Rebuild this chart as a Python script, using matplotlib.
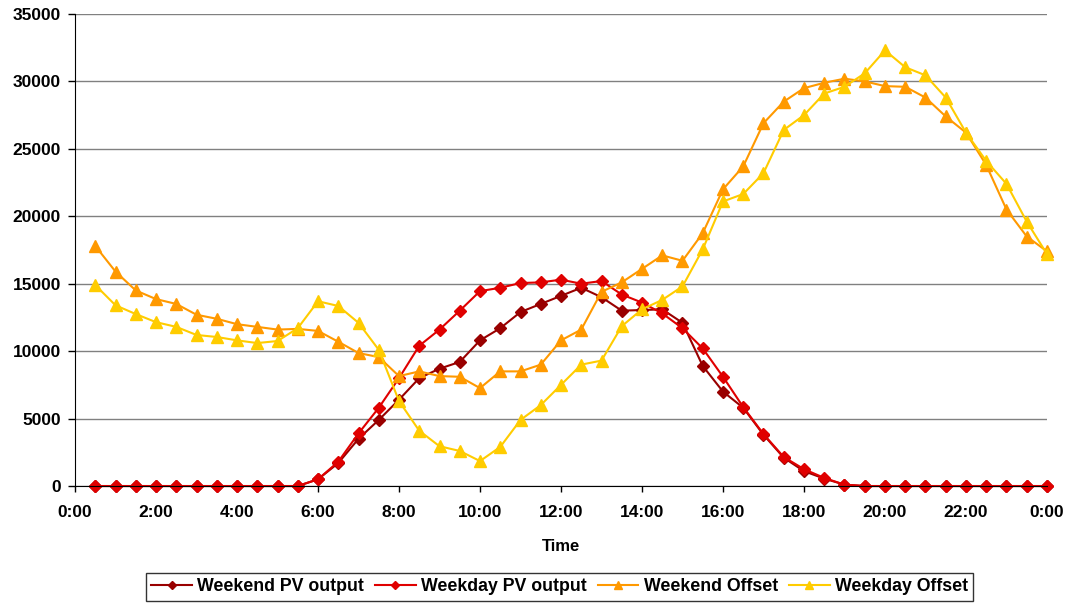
import matplotlib
matplotlib.use('Agg')
import matplotlib.pyplot as plt
import numpy as np

plt.rcParams['font.family'] = ['Liberation Sans', 'DejaVu Sans']
plt.rcParams['font.weight'] = 'bold'

# half-hourly points 0:30 .. 24:00
hours = [h / 2 for h in range(1, 49)]

weekend_pv = [0, 0, 0, 0, 0, 0, 0, 0, 0, 0, 0, 500,
              1700, 3500, 4900, 6400, 8000, 8700, 9200, 10800, 11700, 12900, 13500, 14100,
              14700, 14000, 13000, 13050, 13100, 12100, 8900, 7000, 5800, 3800, 2100, 1100,
              550, 100, 0, 0, 0, 0, 0, 0, 0, 0, 0, 0]
weekday_pv = [0, 0, 0, 0, 0, 0, 0, 0, 0, 0, 0, 500,
              1800, 3900, 5800, 8000, 10400, 11600, 13000, 14450, 14700, 15050, 15100, 15300,
              15000, 15200, 14200, 13600, 12800, 11700, 10200, 8100, 5850, 3850, 2150, 1250,
              600, 100, 0, 0, 0, 0, 0, 0, 0, 0, 0, 0]
weekend_offset = [17800, 15900, 14500, 13860, 13500, 12700, 12400, 12000, 11800, 11600, 11650, 11500,
                  10700, 9860, 9560, 8150, 8500, 8150, 8100, 7260, 8500, 8500, 9000, 10800,
                  11600, 14400, 15100, 16100, 17100, 16700, 18750, 22000, 23700, 26900, 28500, 29500,
                  29900, 30200, 30000, 29650, 29600, 28800, 27400, 26200, 23800, 20500, 18500, 17400]
weekday_offset = [14900, 13400, 12750, 12150, 11800, 11200, 11050, 10800, 10600, 10750, 11700, 13700,
                  13350, 12100, 10100, 6300, 4100, 2950, 2600, 1850, 2900, 4900, 6000, 7500,
                  9000, 9300, 11850, 13100, 13800, 14800, 17550, 21100, 21650, 23200, 26400, 27500,
                  29100, 29600, 30600, 32300, 31050, 30450, 28800, 26200, 24100, 22400, 19600, 17200]

series = [
    ('Weekend PV output', weekend_pv, '#990000', 'D', 6),
    ('Weekday PV output', weekday_pv, '#E00000', 'D', 6),
    ('Weekend Offset', weekend_offset, '#FF9900', '^', 8),
    ('Weekday Offset', weekday_offset, '#FFCC00', '^', 8),
]

fig = plt.figure(figsize=(10.7, 6.07), dpi=100)
ax = fig.add_axes([0.0701, 0.1993, 0.9084, 0.7777])

for name, vals, col, mk, ms in series:
    ax.plot(hours, vals, color=col, marker=mk, markersize=ms, linewidth=1.5,
            markeredgecolor=col, label=name, clip_on=False)

ax.set_xlim(0, 24)
ax.set_ylim(0, 35000)
ax.set_xticks(range(0, 25, 2))
ax.set_xticklabels([f'{h % 24}:00' for h in range(0, 25, 2)])
ax.set_yticks(range(0, 35001, 5000))
ax.yaxis.grid(True, color='#808080', linewidth=1)
ax.set_axisbelow(True)
for s in ['top', 'right']:
    ax.spines[s].set_visible(False)
ax.spines['left'].set_color('black')
ax.spines['bottom'].set_color('black')
ax.tick_params(axis='both', labelsize=12.5, direction='out', width=1)
ax.tick_params(axis='x', length=4, pad=10)
ax.tick_params(axis='y', length=5, pad=5)
ax.set_xlabel('Time', fontsize=12, fontweight='bold', labelpad=13)

leg = fig.legend(loc='lower center', bbox_to_anchor=(0.523, -0.004), ncol=4, fontsize=12.8,
                 frameon=True, fancybox=False, edgecolor='black', handlelength=2.3,
                 columnspacing=0.6, handletextpad=0.3, borderpad=0.3, markerscale=0.7)
leg.get_frame().set_linewidth(1)

fig.savefig('out.png', dpi=100)
